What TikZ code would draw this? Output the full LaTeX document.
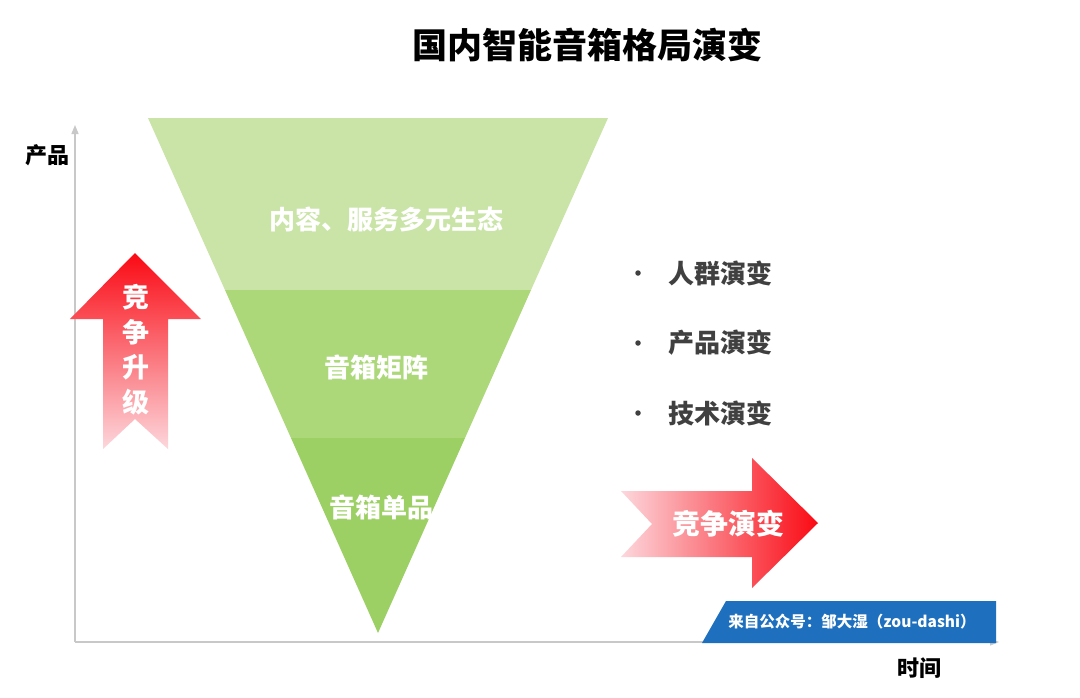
\documentclass[tikz,border=0pt]{standalone}
\usepackage{fontspec}
\setmainfont{Noto Sans CJK SC}
\usetikzlibrary{arrows.meta}
\definecolor{bandA}{RGB}{201,228,166}
\definecolor{bandB}{RGB}{172,216,122}
\definecolor{bandC}{RGB}{157,208,100}
\definecolor{axisgray}{RGB}{200,200,200}
\definecolor{txtgray}{RGB}{64,64,64}
\definecolor{arrred}{RGB}{250,10,20}
\definecolor{arrpink}{RGB}{252,215,220}
\definecolor{bannerblue}{RGB}{30,112,190}
\tikzset{
  band/.style={draw=none},
  bandlabel/.style={text=white, font=\fontsize{26}{30}\selectfont\bfseries, inner sep=0pt},
  bullettext/.style={text=txtgray, font=\fontsize{26}{30}\selectfont\bfseries, anchor=west, inner sep=0pt},
  bulletdot/.style={circle, fill=txtgray, inner sep=0pt, minimum size=5.5pt},
  axislabel/.style={text=black, font=\fontsize{22}{26}\selectfont\bfseries, inner sep=0pt},
  axisline/.style={draw=axisgray, line width=1.3pt, -{Triangle[length=9pt,width=7pt]}},
}
\begin{document}
\begin{tikzpicture}[x=1pt,y=-1pt]
\useasboundingbox (0,0) rectangle (1080,697);
\fill[white] (0,0) rectangle (1080,697);

% title
\node[font=\fontsize{35}{40}\selectfont\bfseries, inner sep=0pt] (title) at (587,45) {国内智能音箱格局演变};

% axes
\coordinate (origin) at (75,642);
\coordinate (ytop) at (75,125);
\coordinate (xend) at (999,642);
\draw[axisline] (origin) -- (ytop);
\draw[axisline] (origin) -- (xend);
\node[axislabel] (ylab) at (47,155) {产品};
\node[axislabel] (xlab) at (919,668) {时间};

% inverted triangle bands
\fill[bandA, band] (148,118) -- (608,118) -- (531,290) -- (225,290) -- cycle;
\fill[bandB, band] (225,290) -- (531,290) -- (465,438) -- (291,438) -- cycle;
\fill[bandC, band] (291,438) -- (465,438) -- (378,633) -- cycle;
\node[bandlabel] (l1) at (386,219) {内容、服务多元生态};
\node[bandlabel] (l2) at (376,368) {音箱矩阵};
\node[bandlabel] (l3) at (381,507) {音箱单品};

% up arrow
\shade[top color=arrred, bottom color=arrpink, draw=none]
  (135,253) -- (201,319) -- (168,319) -- (168,449) -- (135,419) -- (103,449) -- (103,319) -- (70,319) -- cycle;
\node[text=white, font=\fontsize{27}{35}\selectfont\bfseries, align=center, inner sep=0pt] (upl) at (136,350) {竞\\争\\升\\级};

% right arrow
\shade[left color=arrpink, right color=arrred, draw=none]
  (621,491) -- (752,491) -- (752,458) -- (818,523) -- (752,588) -- (752,557) -- (621,557) -- (652,524) -- cycle;
\node[text=white, font=\fontsize{28}{32}\selectfont\bfseries, inner sep=0pt] (rl) at (728,524) {竞争演变};

% bullets
\node[bulletdot] (b1) at (638,273) {};
\node[bullettext] (t1) at (668,273) {人群演变};
\node[bulletdot] (b2) at (638,343) {};
\node[bullettext] (t2) at (668,343) {产品演变};
\node[bulletdot] (b3) at (638,413) {};
\node[bullettext] (t3) at (668,413) {技术演变};

% banner
\fill[bannerblue] (726,601) -- (996,601) -- (996,643) -- (702,643) -- cycle;
\node[text=white, font=\fontsize{15.5}{18}\selectfont\bfseries, inner sep=0pt] (src) at (852,622) {来自公众号：邹大湿（zou-dashi）};
\end{tikzpicture}
\end{document}
